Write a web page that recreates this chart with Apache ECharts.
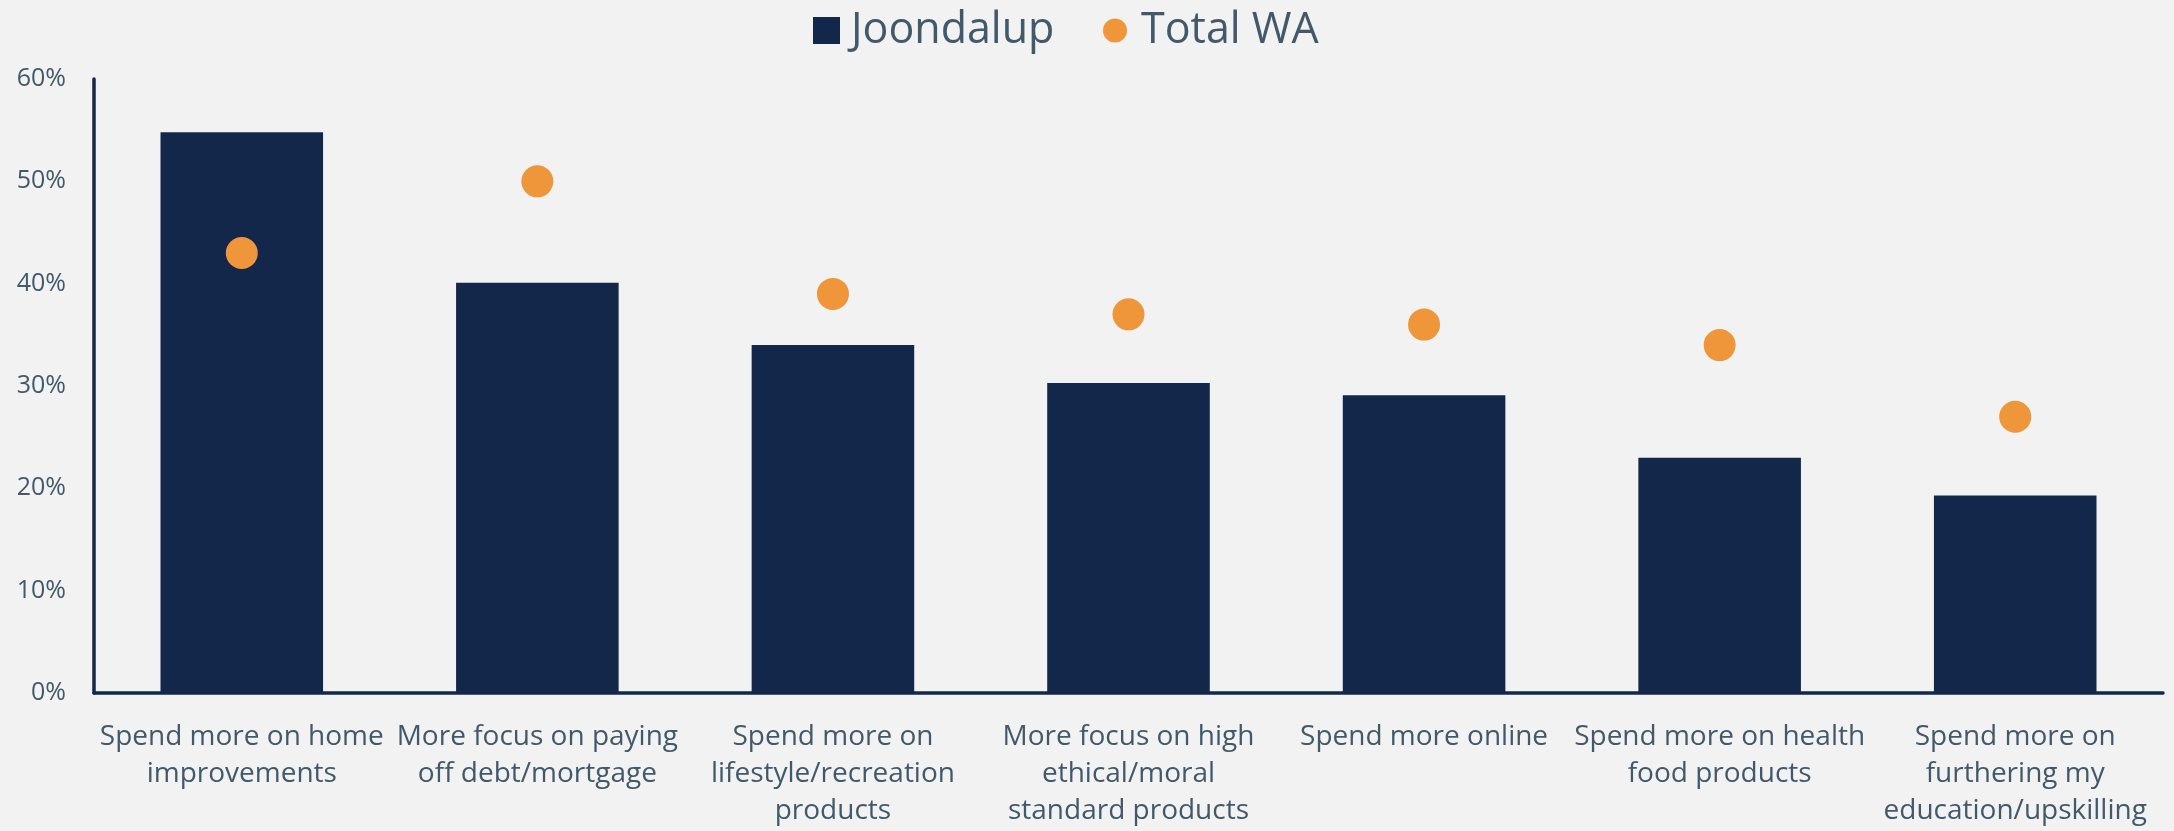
<!DOCTYPE html>
<html>
<head>
<meta charset="utf-8">
<script src="https://cdn.jsdelivr.net/npm/echarts@6/dist/echarts.min.js"></script>
<style>
html,body{margin:0;padding:0;background:#f1f2f1;}
#c{width:2174px;height:831px;}
</style>
</head>
<body>
<div id="c"></div>
<script>
const categories = [
  "Spend more on home\nimprovements",
  "More focus on paying\noff debt/mortgage",
  "Spend more on\nlifestyle/recreation\nproducts",
  "More focus on high\nethical/moral\nstandard products",
  "Spend more online",
  "Spend more on health\nfood products",
  "Spend more on\nfurthering my\neducation/upskilling"
];
const joondalup = [54.8, 40.1, 34.0, 30.3, 29.1, 23.0, 19.3];
const totalWA = [43, 50, 39, 37, 36, 34, 27];
const yTicks = [0, 10, 20, 30, 40, 50, 60];

const navy = '#13274b';
const orange = '#ef963a';
const textColor = '#42596b';
const font = '"Open Sans", sans-serif';

const chart = echarts.init(document.getElementById('c'), null, {renderer: 'canvas'});
chart.setOption({
  backgroundColor: '#f1f2f1',
  animation: false,
  textStyle: {fontFamily: font},
  legend: [{
    left: 813, top: 9, padding: 0,
    itemWidth: 27, itemHeight: 27,
    data: [{name: 'Joondalup', icon: 'rect'}],
    textStyle: {fontSize: 43, lineHeight: 43, color: textColor, fontFamily: font, padding: [0,0,0,6]}
  }, {
    left: 1103, top: 9, padding: 0,
    itemWidth: 24, itemHeight: 24,
    data: [{name: 'Total WA', icon: 'circle'}],
    textStyle: {fontSize: 43, lineHeight: 43, color: textColor, fontFamily: font, padding: [0,0,0,9]}
  }],
  grid: {left: 94, right: 11, top: 79, bottom: 138, containLabel: false},
  xAxis: {
    type: 'category',
    data: categories,
    axisLine: {show: true, lineStyle: {color: navy, width: 3.5}},
    axisTick: {show: false},
    axisLabel: {
      interval: 0, margin: 26, fontSize: 28, lineHeight: 37,
      color: textColor, fontFamily: font, align: 'center'
    }
  },
  yAxis: {
    type: 'value',
    min: 0, max: 60, interval: 10,
    axisLine: {show: true, lineStyle: {color: navy, width: 3.5}},
    axisTick: {show: false},
    splitLine: {show: false},
    axisLabel: {
      margin: 28, fontSize: 25, color: textColor, fontFamily: font,
      formatter: v => yTicks.includes(v) ? v + '%' : ''
    }
  },
  series: [{
    name: 'Joondalup',
    type: 'bar',
    data: joondalup,
    barWidth: '55%',
    itemStyle: {color: navy},
    z: 2
  }, {
    name: 'Total WA',
    type: 'scatter',
    data: totalWA,
    symbol: 'circle',
    symbolSize: 32,
    itemStyle: {color: orange, opacity: 1},
    z: 3
  }]
});
</script>
</body>
</html>
